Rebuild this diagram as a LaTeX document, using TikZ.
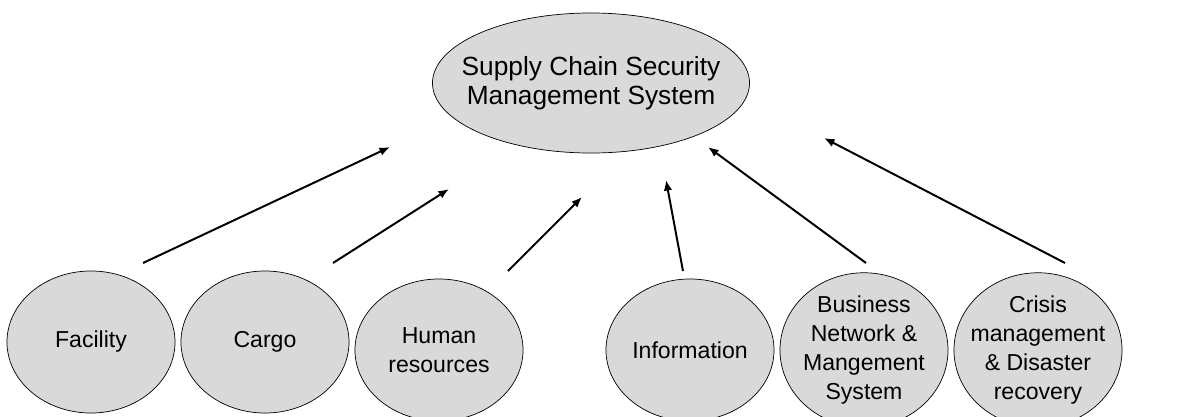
\documentclass[tikz,border=0pt]{standalone}
\usepackage{fontspec}
\setmainfont{Liberation Sans}
\usetikzlibrary{shapes.geometric,arrows.meta}
\definecolor{ovalgray}{RGB}{217,217,217}
\tikzset{
  oval/.style={ellipse,draw=black,fill=ovalgray,line width=0.5pt,inner sep=0pt,align=center,
    font=\fontsize{16.4}{20.8}\selectfont},
  part/.style={oval,inner xsep=-0.25cm,minimum width=4.2cm,minimum height=3.55cm},
  link/.style={line width=1.4pt,-{Latex[length=7.5pt,width=6pt]}}
}
\begin{document}
\begin{tikzpicture}[x=0.025cm,y=-0.025cm]
\useasboundingbox (0,0) rectangle (1199,416);

\node[oval,inner xsep=-0.5cm,minimum width=7.925cm,minimum height=3.5cm,font=\fontsize{18.7}{20.6}\selectfont] (scsms) at (591,83) {Supply Chain Security\\Management System};

\node[part] (facility) at (91,342) {Facility};
\node[part] (cargo) at (265,342) {Cargo};
\node[part] (human) at (439,350) {Human\\resources};
\node[part] (info) at (690,350) {Information};
\node[part] (business) at (864,350) {Business\\Network \&\\Mangement\\System};
\node[part] (crisis) at (1038,350) {Crisis\\management\\\& Disaster\\recovery};

% free ends of the arrows
\coordinate (facility-s) at (143,263);
\coordinate (facility-e) at (390,147);
\coordinate (cargo-s) at (333,263);
\coordinate (cargo-e) at (449,189);
\coordinate (human-s) at (508,271);
\coordinate (human-e) at (582,197);
\coordinate (info-s) at (683,271);
\coordinate (info-e) at (666,180);
\coordinate (business-s) at (866,263);
\coordinate (business-e) at (708,147);
\coordinate (crisis-s) at (1065,263);
\coordinate (crisis-e) at (824,138);

\draw[link] (facility-s) -- (facility-e);
\draw[link] (cargo-s) -- (cargo-e);
\draw[link] (human-s) -- (human-e);
\draw[link] (info-s) -- (info-e);
\draw[link] (business-s) -- (business-e);
\draw[link] (crisis-s) -- (crisis-e);
\end{tikzpicture}
\end{document}
